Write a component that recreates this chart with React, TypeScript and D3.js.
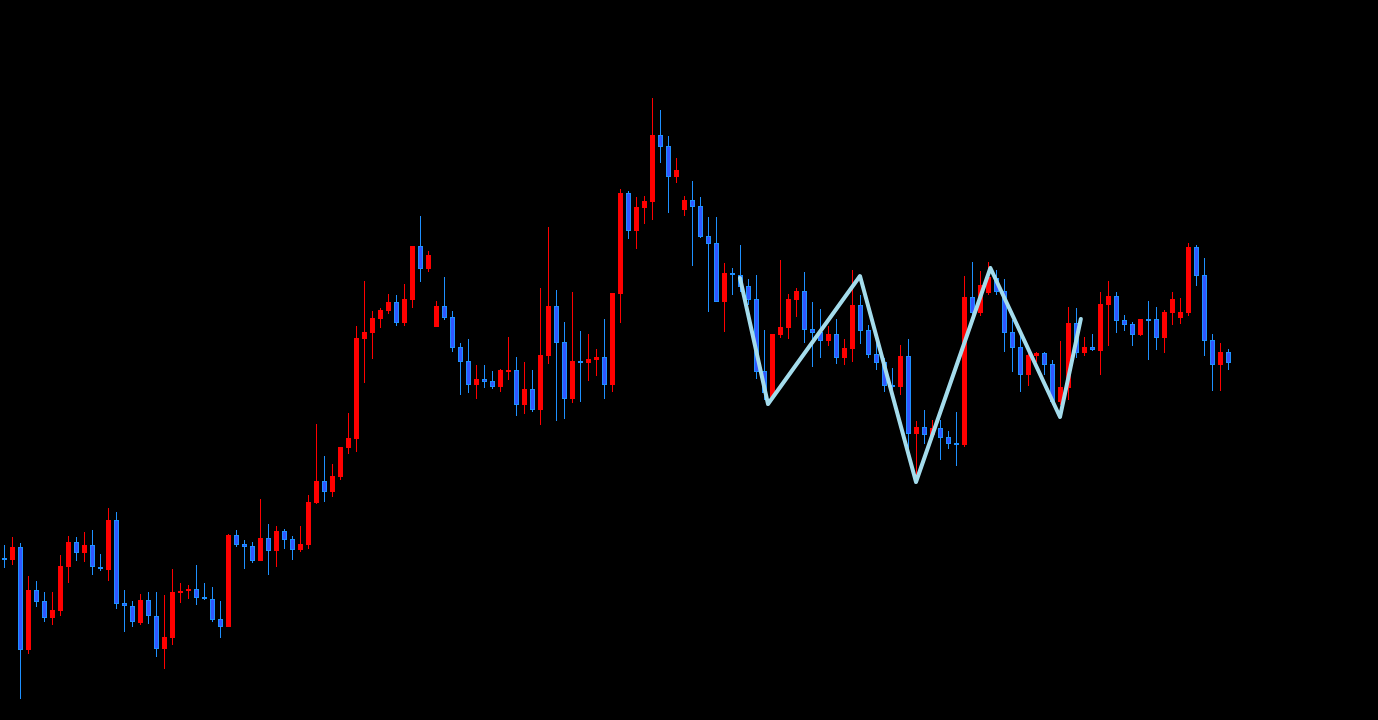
import React, { useEffect } from "react";
import * as d3 from "d3";

// OHLC values, one entry per bar (left to right)
const opens = [
  442, 440, 453, 350, 410, 399, 382, 389, 433, 458, 447, 455, 433, 430, 480, 397, 394, 377, 400, 384,
  351, 362, 407, 409, 411, 403, 401, 381, 373, 465, 456, 454, 439, 462, 449, 469, 461, 450, 455, 497,
  519, 508, 523, 552, 561, 661, 667, 681, 689, 698, 677, 700, 754, 731, 673, 694, 683, 653, 639, 615,
  621, 619, 613, 629, 630, 595, 611, 590, 644, 694, 658, 601, 639, 637, 640, 643, 615, 706, 807, 769,
  792, 798, 865, 854, 823, 790, 800, 794, 764, 757, 698, 727, 725, 714, 701, 629, 603, 665, 672, 700,
  709, 671, 668, 659, 666, 642, 651, 695, 670, 646, 638, 615, 613, 644, 566, 573, 565, 572, 563, 557,
  555, 703, 687, 707, 722, 709, 668, 653, 625, 644, 647, 636, 598, 612, 677, 647, 653, 649, 695, 704,
  680, 676, 665, 681, 681, 662, 687, 682, 687, 753, 725, 660, 635, 648,
];
const highs = [
  455, 463, 457, 424, 419, 408, 408, 445, 464, 463, 468, 470, 446, 492, 488, 410, 399, 406, 408, 408,
  405, 431, 417, 415, 435, 417, 413, 399, 466, 470, 460, 458, 501, 476, 474, 471, 464, 474, 505, 576,
  544, 536, 553, 587, 674, 719, 689, 692, 706, 705, 716, 754, 784, 749, 699, 723, 689, 657, 661, 635,
  635, 629, 631, 663, 643, 638, 630, 712, 773, 710, 678, 708, 669, 666, 651, 681, 707, 811, 809, 803,
  804, 902, 890, 864, 842, 804, 819, 803, 783, 783, 737, 732, 755, 721, 725, 670, 666, 740, 706, 712,
  728, 698, 691, 674, 681, 661, 730, 705, 675, 660, 642, 632, 655, 661, 579, 590, 580, 580, 569, 588,
  724, 738, 729, 738, 730, 721, 680, 665, 647, 648, 648, 640, 659, 693, 692, 663, 666, 708, 719, 708,
  685, 678, 681, 699, 693, 690, 708, 702, 757, 755, 742, 666, 657, 651,
];
const lows = [
  432, 435, 301, 346, 393, 378, 375, 384, 417, 439, 438, 425, 429, 419, 391, 368, 373, 375, 376, 343,
  331, 355, 397, 401, 395, 400, 378, 362, 373, 453, 431, 437, 439, 425, 433, 451, 440, 448, 451, 496,
  498, 503, 520, 546, 548, 617, 641, 672, 686, 674, 674, 692, 718, 728, 673, 680, 648, 605, 607, 601,
  612, 611, 608, 620, 584, 586, 588, 575, 636, 579, 581, 597, 598, 619, 624, 601, 608, 677, 761, 751,
  776, 780, 837, 787, 817, 784, 734, 762, 688, 698, 668, 705, 708, 695, 621, 600, 600, 662, 661, 683,
  657, 633, 642, 654, 636, 635, 638, 656, 642, 630, 608, 611, 605, 547, 523, 556, 560, 540, 551, 534,
  553, 680, 684, 705, 705, 648, 628, 608, 614, 638, 625, 595, 595, 600, 642, 644, 649, 625, 654, 667,
  669, 654, 664, 640, 650, 647, 675, 676, 684, 714, 644, 609, 609, 630,
];
const closes = [
  441, 453, 350, 410, 398, 382, 390, 434, 458, 447, 455, 433, 431, 480, 396, 394, 378, 400, 384, 351,
  363, 408, 409, 411, 402, 401, 380, 373, 465, 455, 453, 439, 462, 449, 469, 460, 450, 456, 498, 519,
  508, 524, 553, 562, 662, 668, 682, 690, 698, 677, 701, 754, 731, 745, 694, 682, 652, 638, 615, 621,
  618, 613, 630, 630, 595, 611, 590, 645, 694, 657, 601, 639, 637, 641, 643, 615, 707, 807, 769, 793,
  799, 865, 853, 823, 830, 800, 793, 763, 756, 698, 727, 725, 713, 700, 628, 607, 666, 673, 701, 709,
  670, 667, 659, 666, 642, 652, 695, 669, 645, 637, 614, 613, 644, 566, 573, 565, 572, 562, 556, 555,
  703, 687, 715, 723, 708, 667, 652, 625, 645, 647, 635, 598, 613, 677, 647, 653, 650, 696, 704, 679,
  675, 665, 681, 680, 662, 688, 701, 688, 753, 724, 659, 635, 648, 637,
];

// zigzag pivots: [bar index, price]
const zigzag: [number, number][] = [
  [92, 722],
  [95.5, 596],
  [107, 724],
  [114, 518],
  [123.3, 732],
  [132, 583],
  [134.6, 681],
];

const W = 1378;
const H = 720;

const UP = "#ff0000";
const DOWN_FILL = "#3157ff";
const DOWN_EDGE = "#1e90ff";
const ZIG = "#a4dcec";

const App = () => {
  useEffect(() => {
    document.body.style.margin = "0";
    document.body.style.background = "#000";
  }, []);

  const x = d3.scaleLinear().domain([0, opens.length - 1]).range([4, 1228]);
  const y = d3.scaleLinear().domain([280, 1000]).range([H, 0]);

  const line = d3
    .line<[number, number]>()
    .x((d) => x(d[0]))
    .y((d) => y(d[1]));

  const bw = 5;

  return (
    <svg width={W} height={H} style={{ display: "block", background: "#000" }}>
      <rect width={W} height={H} fill="#000" />
      <g shapeRendering="crispEdges">
        {opens.map((o, i) => {
          const c = closes[i];
          const up = c >= o;
          const cx = Math.round(x(i));
          const top = y(Math.max(o, c));
          const bot = y(Math.min(o, c));
          const h = Math.max(bot - top, 1.5);
          return (
            <g key={i}>
              <line
                x1={cx + 0.5}
                x2={cx + 0.5}
                y1={y(highs[i])}
                y2={y(lows[i])}
                stroke={up ? UP : DOWN_EDGE}
                strokeWidth={1}
              />
              {up ? (
                <rect x={cx - 2} y={top} width={bw} height={h} fill={UP} />
              ) : (
                <rect
                  x={cx - 1.5}
                  y={top + 0.5}
                  width={bw - 1}
                  height={Math.max(h - 1, 1)}
                  fill={DOWN_FILL}
                  stroke={DOWN_EDGE}
                  strokeWidth={1}
                />
              )}
            </g>
          );
        })}
      </g>
      <path
        d={line(zigzag) || ""}
        fill="none"
        stroke={ZIG}
        strokeWidth={4}
        strokeLinejoin="round"
        strokeLinecap="round"
      />
    </svg>
  );
};

export default App;
